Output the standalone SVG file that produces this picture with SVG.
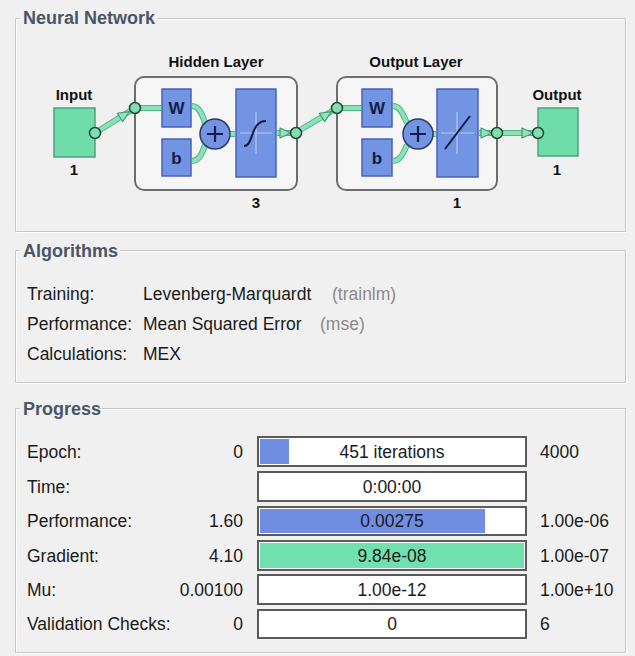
<svg xmlns="http://www.w3.org/2000/svg" width="635" height="656" viewBox="0 0 635 656">
<defs>
<style>
.ttl{font-family:"Liberation Sans",Arial,sans-serif;font-weight:bold;font-size:18px;fill:#4a5666}
.t{font-family:"Liberation Sans",Arial,sans-serif;font-size:17.5px;fill:#1a1a1a}
.g{font-family:"Liberation Sans",Arial,sans-serif;font-size:17.5px;fill:#8a8a8a}
.nl{font-family:"Liberation Sans",Arial,sans-serif;font-weight:bold;font-size:15px;fill:#111}
.bx{font-family:"Liberation Sans",Arial,sans-serif;font-weight:bold;font-size:17px;fill:#0f1e46}
.etch{fill:none;stroke:#c6c6c6;stroke-width:1}
.etchw{fill:none;stroke:#ffffff;stroke-width:1}
.grn{fill:#6fdcaa;stroke:#4aa47c;stroke-width:1.5}
.blu{fill:#7393e3;stroke:#4763b5;stroke-width:1.5}
.lay{fill:#f6f6f6;stroke:#6e6e6e;stroke-width:2}
.w1{fill:none;stroke:#55b487;stroke-width:6;stroke-linecap:butt;stroke-linejoin:round}
.w2{fill:none;stroke:#8ae2b9;stroke-width:4;stroke-linecap:butt;stroke-linejoin:round}
.dot{fill:#82ddb3;stroke:#1f4a34;stroke-width:1.5}
.ah{fill:#8fe4bd;stroke:#3e9c70;stroke-width:1.2;stroke-linejoin:round}
.bar{fill:#ffffff;stroke:#5a5a5a;stroke-width:2}
.xh{stroke:#b9c8f0;stroke-width:1.2;fill:none}
</style>
</defs>
<rect x="0" y="0" width="635" height="656" fill="#f0f0f0"/>

<!-- Panels -->
<g id="panel-nn">
<path class="etchw" d="M20,19.5 H16.5 V232.5 H626.5 V19.5 H158"/>
<path class="etch" d="M20,18.5 H15.5 V231.5 H625.5 V18.5 H158"/>
<text class="ttl" x="23" y="24">Neural Network</text>
</g>
<g id="panel-alg">
<path class="etchw" d="M20,251.5 H16.5 V383.5 H626.5 V251.5 H120"/>
<path class="etch" d="M20,250.5 H15.5 V382.5 H625.5 V250.5 H120"/>
<text class="ttl" x="23" y="257">Algorithms</text>
<text class="t" x="27" y="300">Training:</text>
<text class="t" x="143" y="300">Levenberg-Marquardt</text>
<text class="g" x="332" y="300">(trainlm)</text>
<text class="t" x="27" y="330">Performance:</text>
<text class="t" x="143" y="330">Mean Squared Error</text>
<text class="g" x="320" y="330">(mse)</text>
<text class="t" x="27" y="360">Calculations:</text>
<text class="t" x="143" y="360">MEX</text>
</g>
<g id="panel-prog">
<path class="etchw" d="M20,409.5 H16.5 V653.5 H626.5 V409.5 H98"/>
<path class="etch" d="M20,408.5 H15.5 V652.5 H625.5 V408.5 H98"/>
<text class="ttl" x="23" y="415">Progress</text>
</g>

<!-- Nodes -->
<g id="input">
<text class="nl" x="74" y="100" text-anchor="middle">Input</text>
<rect class="grn" x="54" y="108" width="41" height="49"/>
<text class="nl" x="74" y="175" text-anchor="middle">1</text>
</g>

<g id="hidden-layer">
<text class="nl" x="216" y="67" text-anchor="middle">Hidden Layer</text>
<rect class="lay" x="135" y="77" width="162" height="113" rx="9"/>
<rect class="blu" x="162" y="89" width="29" height="38"/>
<text class="bx" x="176.5" y="114" text-anchor="middle">W</text>
<rect class="blu" x="162" y="139" width="29" height="37"/>
<text class="bx" x="176.5" y="164" text-anchor="middle">b</text>
<rect class="blu" x="236" y="89" width="40" height="88"/>
<path class="xh" d="M240,133 H272 M256,112 V154"/>
<path d="M244,146 C254,146 250,121 266,121" stroke="#101a3a" stroke-width="2" fill="none"/>
<text class="nl" x="256" y="208" text-anchor="middle">3</text>
</g>

<g id="output-layer">
<text class="nl" x="416" y="67" text-anchor="middle">Output Layer</text>
<rect class="lay" x="337" y="77" width="160" height="113" rx="9"/>
<rect class="blu" x="362" y="89" width="30" height="38"/>
<text class="bx" x="377" y="114" text-anchor="middle">W</text>
<rect class="blu" x="362" y="139" width="30" height="37"/>
<text class="bx" x="377" y="164" text-anchor="middle">b</text>
<rect class="blu" x="437" y="89" width="41" height="88"/>
<path class="xh" d="M441,133 H474 M457,112 V154"/>
<path d="M445,149 L470,116" stroke="#101a3a" stroke-width="2" fill="none"/>
<text class="nl" x="457" y="208" text-anchor="middle">1</text>
</g>

<g id="output">
<text class="nl" x="557" y="100" text-anchor="middle">Output</text>
<rect class="grn" x="538" y="108" width="40" height="48"/>
<text class="nl" x="557" y="175" text-anchor="middle">1</text>
</g>

<!-- Connectors -->
<g id="connectors">
<path class="w1" d="M95,133 L135,108 H161 M192,106 C200,106 203,117 205,123 M192,161 C200,161 203,151 205,145 M230,134 H235 M277,133 H295 L337,108 H361 M393,106 C401,106 404,117 407,123 M393,161 C401,161 404,151 407,145 M433,134 H436 M479,133 H537"/>
<path class="w2" d="M95,133 L135,108 H161 M192,106 C200,106 203,117 205,123 M192,161 C200,161 203,151 205,145 M230,134 H235 M277,133 H295 L337,108 H361 M393,106 C401,106 404,117 407,123 M393,161 C401,161 404,151 407,145 M433,134 H436 M479,133 H537"/>
<polygon class="ah" points="0,-5 11,0 0,5" transform="translate(120,117.5) rotate(-32)"/>
<polygon class="ah" points="0,-5 11,0 0,5" transform="translate(280,133)"/>
<polygon class="ah" points="0,-5 11,0 0,5" transform="translate(322,117.5) rotate(-32)"/>
<polygon class="ah" points="0,-5 11,0 0,5" transform="translate(481,133)"/>
<polygon class="ah" points="0,-5 11,0 0,5" transform="translate(522,133)"/>
<circle class="dot" cx="95" cy="133" r="5.5"/>
<circle class="dot" cx="135" cy="108" r="5.5"/>
<circle class="dot" cx="296" cy="133" r="5.5"/>
<circle class="dot" cx="337" cy="108" r="5.5"/>
<circle class="dot" cx="497" cy="133" r="5.5"/>
<circle class="dot" cx="538" cy="133" r="5.5"/>
</g>

<!-- Summing junctions (drawn over connector ends) -->
<g id="sum-hidden">
<circle cx="215" cy="134" r="15" fill="#7393e3" stroke="#2b3a66" stroke-width="1.5"/>
<path d="M215,126 V142 M207,134 H223" stroke="#0f1e46" stroke-width="2.2" fill="none"/>
</g>
<g id="sum-output">
<circle cx="418" cy="134" r="15" fill="#7393e3" stroke="#2b3a66" stroke-width="1.5"/>
<path d="M418,126 V142 M410,134 H426" stroke="#0f1e46" stroke-width="2.2" fill="none"/>
</g>

<!-- Progress rows -->
<g id="row-epoch">
<text class="t" x="27" y="458">Epoch:</text>
<text class="t" x="243" y="458" text-anchor="end">0</text>
<rect class="bar" x="258" y="437" width="268" height="29"/>
<rect x="260" y="439" width="29" height="25" fill="#6f8ee2"/>
<text class="t" x="392" y="458" text-anchor="middle">451 iterations</text>
<text class="t" x="540" y="458">4000</text>
</g>
<g id="row-time">
<text class="t" x="27" y="493">Time:</text>
<rect class="bar" x="258" y="472" width="268" height="29"/>
<text class="t" x="392" y="493" text-anchor="middle">0:00:00</text>
</g>
<g id="row-performance">
<text class="t" x="27" y="527">Performance:</text>
<text class="t" x="243" y="527" text-anchor="end">1.60</text>
<rect class="bar" x="258" y="507" width="268" height="28"/>
<rect x="260" y="509" width="225" height="24" fill="#6f8ee2"/>
<text class="t" x="392" y="527" text-anchor="middle">0.00275</text>
<text class="t" x="540" y="527">1.00e-06</text>
</g>
<g id="row-gradient">
<text class="t" x="27" y="562">Gradient:</text>
<text class="t" x="243" y="562" text-anchor="end">4.10</text>
<rect class="bar" x="258" y="541" width="268" height="29"/>
<rect x="260" y="543" width="264" height="25" fill="#6fe0ae"/>
<text class="t" x="392" y="562" text-anchor="middle">9.84e-08</text>
<text class="t" x="540" y="562">1.00e-07</text>
</g>
<g id="row-mu">
<text class="t" x="27" y="596">Mu:</text>
<text class="t" x="243" y="596" text-anchor="end">0.00100</text>
<rect class="bar" x="258" y="575" width="268" height="29"/>
<text class="t" x="392" y="596" text-anchor="middle">1.00e-12</text>
<text class="t" x="540" y="596">1.00e+10</text>
</g>
<g id="row-validation">
<text class="t" x="27" y="630">Validation Checks:</text>
<text class="t" x="243" y="630" text-anchor="end">0</text>
<rect class="bar" x="258" y="610" width="268" height="28"/>
<text class="t" x="392" y="630" text-anchor="middle">0</text>
<text class="t" x="540" y="630">6</text>
</g>
</svg>
